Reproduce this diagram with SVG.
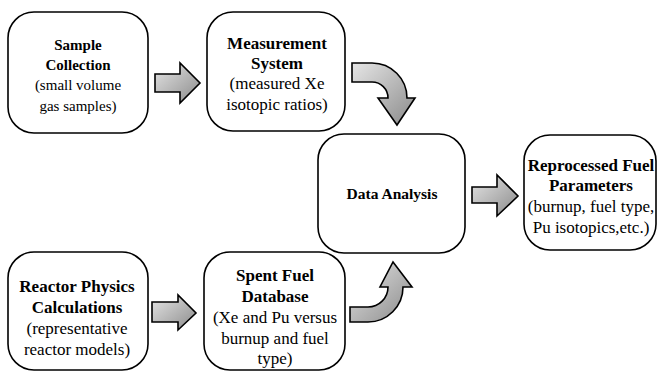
<svg xmlns="http://www.w3.org/2000/svg" width="661" height="373" viewBox="0 0 661 373">
<style>
.box{fill:#fff;stroke:#000;stroke-width:1.6}
.arr{fill:url(#g);stroke:#000;stroke-width:1.6;stroke-linejoin:miter}
text{font-family:"Liberation Serif","Times New Roman",serif;font-size:17px;fill:#000;text-anchor:middle}
.b{font-weight:bold}
.s{font-size:15px}
.m{font-size:15.5px}
</style>
<defs>
<linearGradient id="g" x1="0" y1="0" x2="1" y2="1">
<stop offset="0" stop-color="#e6e6e6"/>
<stop offset="1" stop-color="#8a8a8a"/>
</linearGradient>
</defs>
<rect width="661" height="373" fill="#fff"/>
<g id="sample-collection">
<rect class="box" x="8" y="12" width="140" height="121" rx="26"/>
<text class="b s" x="78" y="50">Sample</text>
<text class="b s" x="78" y="70">Collection</text>
<text class="s" x="78" y="90">(small volume</text>
<text class="s" x="78" y="111">gas samples)</text>
</g>
<g id="measurement-system">
<rect class="box" x="207" y="12" width="138" height="119" rx="26"/>
<text class="b" x="277" y="49">Measurement</text>
<text class="b" x="277" y="69">System</text>
<text x="277" y="89">(measured Xe</text>
<text x="277" y="110">isotopic ratios)</text>
</g>
<g id="data-analysis">
<rect class="box" x="318" y="134" width="147" height="119" rx="26"/>
<text class="b m" x="392" y="199">Data Analysis</text>
</g>
<g id="reprocessed-fuel">
<rect class="box" x="524" y="135" width="132" height="115" rx="26"/>
<text class="b" x="591" y="171">Reprocessed Fuel</text>
<text class="b" x="591" y="191">Parameters</text>
<text x="591" y="212">(burnup, fuel type,</text>
<text x="591" y="233">Pu isotopics,etc.)</text>
</g>
<g id="reactor-physics">
<rect class="box" x="8" y="252" width="140" height="118" rx="26"/>
<text class="b" x="77" y="292">Reactor Physics</text>
<text class="b" x="77" y="313">Calculations</text>
<text x="77" y="334">(representative</text>
<text x="77" y="355">reactor models)</text>
</g>
<g id="spent-fuel-database">
<rect class="box" x="204" y="252" width="141" height="118" rx="26"/>
<text class="b" x="275" y="281">Spent Fuel</text>
<text class="b" x="275" y="302">Database</text>
<text x="275" y="323">(Xe and Pu versus</text>
<text x="275" y="344">burnup and fuel</text>
<text x="275" y="364">type)</text>
</g>
<g id="connectors">
<path class="arr" d="M155,74 H180 V63 L200,83 L180,103 V92 H155 Z"/>
<path class="arr" d="M352,63 H372 A35,35 0 0 1 407,98 H415 L397,125 L378,98 H388 A16,16 0 0 0 372,82 H352 Z"/>
<path class="arr" d="M472,187 H497 V175 L518,196 L497,216 V203 H472 Z"/>
<path class="arr" d="M152,302 H178 V295 L196,313 L178,330 V322 H152 Z"/>
<path class="arr" d="M350,322 H368 A35,35 0 0 0 403,287 H412 L393,262 L380,287 H388 A20,20 0 0 1 368,307 H350 Z"/>
</g>
</svg>
